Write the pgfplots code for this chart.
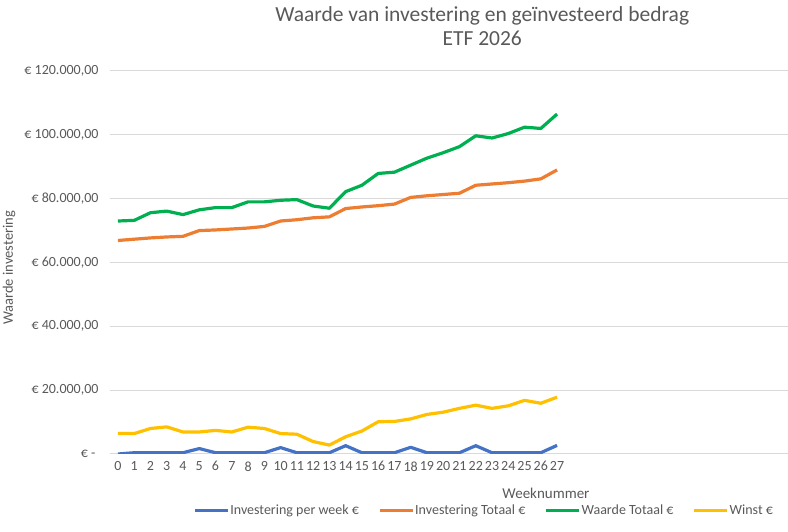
\documentclass[border=0pt]{standalone}
\usepackage{pgfplots}
\pgfplotsset{compat=1.18}
\usepackage{fontspec}
\setmainfont{Carlito}

\definecolor{txtgray}{HTML}{595959}
\definecolor{gridgray}{HTML}{D9D9D9}
\definecolor{cblue}{HTML}{4472C4}
\definecolor{corange}{HTML}{ED7D31}
\definecolor{cgreen}{HTML}{00B050}
\definecolor{cyellow}{HTML}{FFC000}

\begin{document}
\begin{tikzpicture}
\useasboundingbox (0,0) rectangle (788bp,532bp);
\begin{axis}[
  at={(110bp,78bp)}, anchor=south west,
  scale only axis, width=678bp, height=383bp,
  xmin=-0.49, xmax=41.2, ymin=0, ymax=120000,
  axis line style={draw=none},
  tick style={draw=none},
  ymajorgrids, major grid style={color=gridgray, line width=1bp},
  xtick={0,1,...,27},
  ytick={0,20000,40000,60000,80000,100000,120000},
  scaled y ticks=false,
  yticklabels={€ -\ \ , € 20.000{,}00, € 40.000{,}00, € 60.000{,}00, € 80.000{,}00, € 100.000{,}00, € 120.000{,}00},
  /pgf/number format/assume math mode=true,
  ticklabel style={font=\fontsize{14bp}{16bp}\selectfont, text=txtgray},
  yticklabel style={xshift=-8bp},
  xticklabel style={yshift=-4bp},
  title={Waarde van investering en geïnvesteerd bedrag\\ETF 2026},
  title style={align=center, font=\fontsize{21.5bp}{24bp}\selectfont, text=txtgray,
    at={(axis description cs:0.549,1.102)}, anchor=center},
  xlabel={Weeknummer},
  xlabel style={font=\fontsize{15bp}{17bp}\selectfont, text=txtgray,
    at={(axis description cs:0.643,-0.102)}, anchor=center},
  ylabel={Waarde investering},
  ylabel style={font=\fontsize{14.5bp}{16bp}\selectfont, text=txtgray,
    at={(axis description cs:-0.149,0.486)}, anchor=center, rotate=0},
  legend columns=4,
  legend image code/.code={\draw[#1] (0bp,0bp) -- (33bp,0bp);},
  legend style={draw=none, fill=none, font=\fontsize{14bp}{16bp}\selectfont, text=txtgray,
    at={(axis description cs:0.551,-0.148)}, anchor=center,
    /tikz/every even column/.append style={column sep=18bp},
    nodes={inner sep=1bp}},
  every axis plot/.append style={line width=3.2bp, line join=round},
]
\addplot[cblue] coordinates {
 (0,0) (1,400) (2,400) (3,400) (4,400) (5,1700) (6,400) (7,400) (8,400) (9,400)
 (10,2000) (11,400) (12,400) (13,400) (14,2600) (15,400) (16,400) (17,400) (18,2100) (19,400)
 (20,400) (21,400) (22,2600) (23,400) (24,400) (25,400) (26,400) (27,2700)};
\addlegendentry{Investering per week €}
\addplot[corange] coordinates {
 (0,66900) (1,67300) (2,67700) (3,68000) (4,68200) (5,70000) (6,70200) (7,70500) (8,70800) (9,71300)
 (10,73000) (11,73400) (12,74000) (13,74300) (14,76900) (15,77400) (16,77800) (17,78300) (18,80400) (19,80900)
 (20,81300) (21,81700) (22,84200) (23,84600) (24,85000) (25,85500) (26,86200) (27,89000)};
\addlegendentry{Investering Totaal €}
\addplot[cgreen] coordinates {
 (0,73000) (1,73200) (2,75600) (3,76100) (4,75000) (5,76500) (6,77200) (7,77200) (8,79000) (9,79000)
 (10,79500) (11,79700) (12,77700) (13,77000) (14,82200) (15,84200) (16,87900) (17,88300) (18,90500) (19,92700)
 (20,94400) (21,96300) (22,99700) (23,99000) (24,100400) (25,102400) (26,102000) (27,106500)};
\addlegendentry{Waarde Totaal €}
\addplot[cyellow] coordinates {
 (0,6400) (1,6400) (2,8000) (3,8500) (4,6900) (5,6900) (6,7400) (7,6900) (8,8400) (9,8000)
 (10,6400) (11,6200) (12,3900) (13,2800) (14,5400) (15,7200) (16,10100) (17,10200) (18,11000) (19,12400)
 (20,13100) (21,14300) (22,15300) (23,14300) (24,15100) (25,16800) (26,15900) (27,17800)};
\addlegendentry{Winst €}
\end{axis}
\end{tikzpicture}
\end{document}
